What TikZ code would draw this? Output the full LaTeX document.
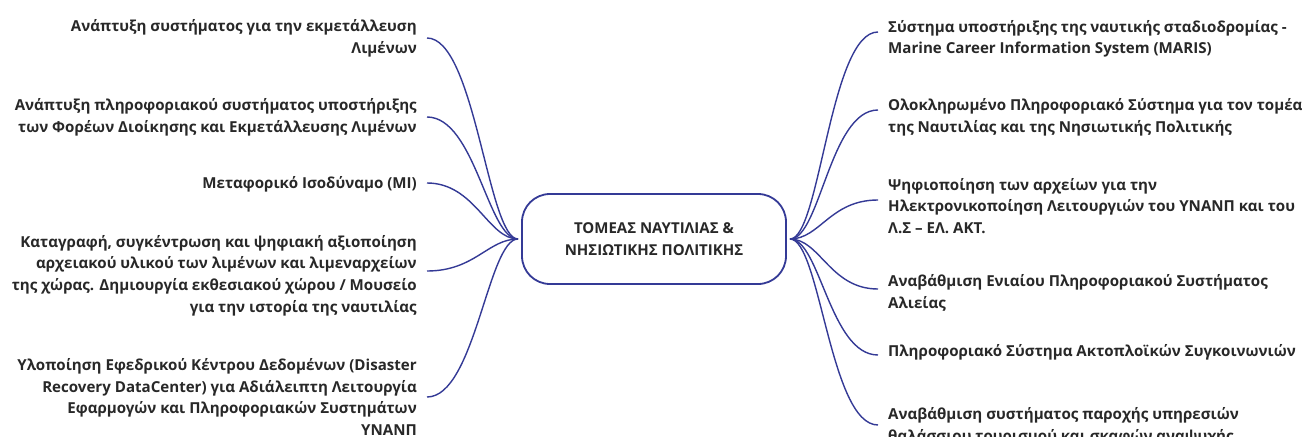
\documentclass[tikz,border=0pt]{standalone}
\usepackage{fontspec}
\setmainfont{Open Sans}
\definecolor{linec}{RGB}{52,58,150}
\definecolor{txtc}{RGB}{40,40,40}
\tikzset{
  lefttxt/.style={anchor=east,align=right,inner sep=0pt,text=txtc,font=\bfseries\fontsize{15.1}{21.6}\selectfont},
  righttxt/.style={anchor=west,align=left,inner sep=0pt,text=txtc,font=\bfseries\fontsize{15.1}{21.6}\selectfont},
  centerbox/.style={draw=linec,line width=1.8pt,rounded corners=28pt,minimum width=264pt,minimum height=90pt,align=center,text=txtc,font=\bfseries\fontsize{15}{22}\selectfont},
  branch/.style={draw=linec,line width=1.4pt}
}
\begin{document}
\begin{tikzpicture}[x=1pt,y=-1pt]
\useasboundingbox (0,0) rectangle (1308,436);
\fill[white] (0,0) rectangle (1308,436);
\clip (0,0) rectangle (1308,436);
\node[centerbox] (c) at (654,239) {ΤΟΜΕΑΣ ΝΑΥΤΙΛΙΑΣ \&\\ΝΗΣΙΩΤΙΚΗΣ ΠΟΛΙΤΙΚΗΣ};
\coordinate (cl) at (518,239);
\coordinate (cr) at (790,239);
% left texts
\node[lefttxt] (l1) at (417,38.5) {Ανάπτυξη συστήματος για την εκμετάλλευση\\Λιμένων};
\node[lefttxt] (l2) at (417,117.5) {Ανάπτυξη πληροφοριακού συστήματος υποστήριξης\\των Φορέων Διοίκησης και Εκμετάλλευσης Λιμένων};
\node[lefttxt] (l3) at (417,184) {Μεταφορικό Ισοδύναμο (ΜΙ)};
\node[lefttxt] (l4) at (417,275.5) {Καταγραφή, συγκέντρωση και ψηφιακή αξιοποίηση\\αρχειακού υλικού των λιμένων και λιμεναρχείων\\της χώρας. Δημιουργία εκθεσιακού χώρου / Μουσείο\\για την ιστορία της ναυτιλίας};
\node[lefttxt] (l5) at (417,397) {Υλοποίηση Εφεδρικού Κέντρου Δεδομένων (Disaster\\Recovery DataCenter) για Αδιάλειπτη Λειτουργία\\Εφαρμογών και Πληροφοριακών Συστημάτων\\ΥΝΑΝΠ};
% right texts
\node[righttxt] (r1) at (888,39) {Σύστημα υποστήριξης της ναυτικής σταδιοδρομίας -\\Marine Career Information System (MARIS)};
\node[righttxt] (r2) at (888,117.5) {Ολοκληρωμένο Πληροφοριακό Σύστημα για τον τομέα\\της Ναυτιλίας και της Νησιωτικής Πολιτικής};
\node[righttxt] (r3) at (888,206) {Ψηφιοποίηση των αρχείων για την\\Ηλεκτρονικοποίηση Λειτουργιών του ΥΝΑΝΠ και του\\Λ.Σ – ΕΛ. ΑΚΤ.};
\node[righttxt] (r4) at (888,293) {Αναβάθμιση Ενιαίου Πληροφοριακού Συστήματος\\Αλιείας};
\node[righttxt] (r5) at (888,352) {Πληροφοριακό Σύστημα Ακτοπλοϊκών Συγκοινωνιών};
\node[righttxt] (r6) at (888,426) {Αναβάθμιση συστήματος παροχής υπηρεσιών\\θαλάσσιου τουρισμού και σκαφών αναψυχής};
% end points
\coordinate (el1) at (427,38);
\coordinate (el2) at (427,117);
\coordinate (el3) at (427,183);
\coordinate (el4) at (427,271);
\coordinate (el5) at (427,397);
\coordinate (er1) at (878,32);
\coordinate (er2) at (878,110);
\coordinate (er3) at (878,200);
\coordinate (er4) at (878,289);
\coordinate (er5) at (878,355);
\coordinate (er6) at (878,425);
\foreach \e in {el1,el2,el3,el4,el5}
  \draw[branch] (cl) .. controls +(-30,0) and +(48,0) .. (\e);
\foreach \e in {er1,er2,er3,er4,er5,er6}
  \draw[branch] (cr) .. controls +(30,0) and +(-48,0) .. (\e);
\end{tikzpicture}
\end{document}
